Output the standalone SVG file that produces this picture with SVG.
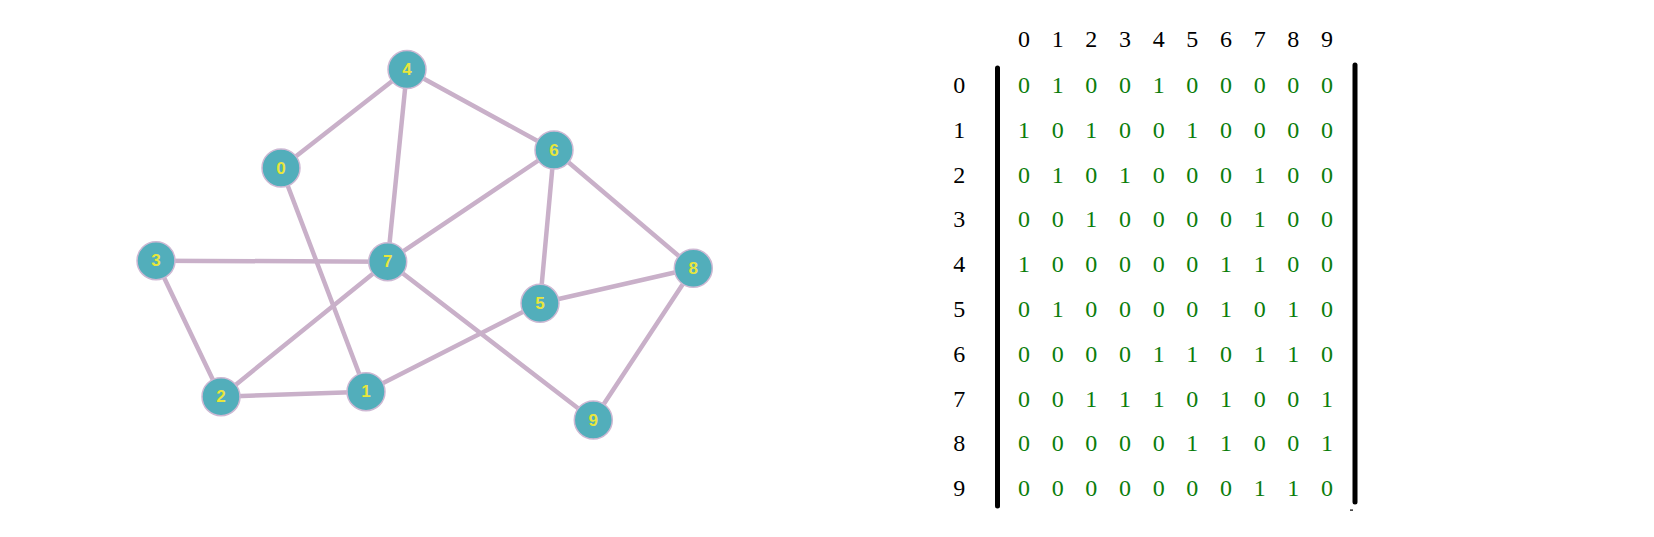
<svg xmlns="http://www.w3.org/2000/svg" width="1654" height="537" viewBox="0 0 1654 537">
<style>
.edge{stroke:#C9B0C9;stroke-width:4.5;stroke-linecap:round;fill:none}
.node circle{fill:#52AEBB;stroke:#CDB8D3;stroke-width:1.5}
.node text{font-family:"Liberation Sans",Arial,sans-serif;font-weight:bold;font-size:17px;fill:#E8E63C;text-anchor:middle;dominant-baseline:central}
.lbl{font-family:"Liberation Serif","Times New Roman",serif;font-size:24px;fill:#000;text-anchor:middle}
.val{font-family:"Liberation Serif","Times New Roman",serif;font-size:24px;fill:#0B7D0B;text-anchor:middle}
.bar{stroke:#000;stroke-width:5;stroke-linecap:round}
</style>
<rect width="1654" height="537" fill="#FFFFFF"/>
<g id="connectors">
<line class="edge" x1="407" y1="69.5" x2="281" y2="168"/>
<line class="edge" x1="407" y1="69.5" x2="387.7" y2="261.7"/>
<line class="edge" x1="407" y1="69.5" x2="554" y2="150"/>
<line class="edge" x1="281" y1="168" x2="366" y2="391.7"/>
<line class="edge" x1="554" y1="150" x2="387.7" y2="261.7"/>
<line class="edge" x1="554" y1="150" x2="540" y2="303.3"/>
<line class="edge" x1="554" y1="150" x2="693.3" y2="268.3"/>
<line class="edge" x1="156" y1="260.7" x2="387.7" y2="261.7"/>
<line class="edge" x1="156" y1="260.7" x2="221" y2="396.7"/>
<line class="edge" x1="387.7" y1="261.7" x2="221" y2="396.7"/>
<line class="edge" x1="387.7" y1="261.7" x2="593.3" y2="420"/>
<line class="edge" x1="540" y1="303.3" x2="693.3" y2="268.3"/>
<line class="edge" x1="540" y1="303.3" x2="366" y2="391.7"/>
<line class="edge" x1="221" y1="396.7" x2="366" y2="391.7"/>
<line class="edge" x1="693.3" y1="268.3" x2="593.3" y2="420"/>
</g>
<g id="node-0" class="node"><circle cx="281" cy="168" r="19"/><text x="281" y="168">0</text></g>
<g id="node-1" class="node"><circle cx="366" cy="391.7" r="19"/><text x="366" y="391.7">1</text></g>
<g id="node-2" class="node"><circle cx="221" cy="396.7" r="19"/><text x="221" y="396.7">2</text></g>
<g id="node-3" class="node"><circle cx="156" cy="260.7" r="19"/><text x="156" y="260.7">3</text></g>
<g id="node-4" class="node"><circle cx="407" cy="69.5" r="19"/><text x="407" y="69.5">4</text></g>
<g id="node-5" class="node"><circle cx="540" cy="303.3" r="19"/><text x="540" y="303.3">5</text></g>
<g id="node-6" class="node"><circle cx="554" cy="150" r="19"/><text x="554" y="150">6</text></g>
<g id="node-7" class="node"><circle cx="387.7" cy="261.7" r="19"/><text x="387.7" y="261.7">7</text></g>
<g id="node-8" class="node"><circle cx="693.3" cy="268.3" r="19"/><text x="693.3" y="268.3">8</text></g>
<g id="node-9" class="node"><circle cx="593.3" cy="420" r="19"/><text x="593.3" y="420">9</text></g>
<g id="matrix">
<g id="col-headers">
<text class="lbl" x="1024" y="46.5">0</text><text class="lbl" x="1057.7" y="46.5">1</text><text class="lbl" x="1091.3" y="46.5">2</text><text class="lbl" x="1125" y="46.5">3</text><text class="lbl" x="1158.7" y="46.5">4</text><text class="lbl" x="1192.3" y="46.5">5</text><text class="lbl" x="1226" y="46.5">6</text><text class="lbl" x="1259.7" y="46.5">7</text><text class="lbl" x="1293.3" y="46.5">8</text><text class="lbl" x="1327" y="46.5">9</text>
</g>
<g id="row-labels">
<text class="lbl" x="959.3" y="93">0</text><text class="lbl" x="959.3" y="137.8">1</text><text class="lbl" x="959.3" y="182.6">2</text><text class="lbl" x="959.3" y="227.4">3</text><text class="lbl" x="959.3" y="272.2">4</text><text class="lbl" x="959.3" y="317">5</text><text class="lbl" x="959.3" y="361.8">6</text><text class="lbl" x="959.3" y="406.6">7</text><text class="lbl" x="959.3" y="451.4">8</text><text class="lbl" x="959.3" y="496.2">9</text>
</g>
<line class="bar" x1="997.5" y1="68" x2="997.5" y2="506"/>
<line class="bar" x1="1355" y1="65" x2="1355" y2="502"/>
<rect x="1350" y="509.5" width="3" height="1.2" fill="#000"/>
<g id="values">
<text class="val" y="93"><tspan x="1024">0</tspan><tspan x="1057.7">1</tspan><tspan x="1091.3">0</tspan><tspan x="1125">0</tspan><tspan x="1158.7">1</tspan><tspan x="1192.3">0</tspan><tspan x="1226">0</tspan><tspan x="1259.7">0</tspan><tspan x="1293.3">0</tspan><tspan x="1327">0</tspan></text>
<text class="val" y="137.8"><tspan x="1024">1</tspan><tspan x="1057.7">0</tspan><tspan x="1091.3">1</tspan><tspan x="1125">0</tspan><tspan x="1158.7">0</tspan><tspan x="1192.3">1</tspan><tspan x="1226">0</tspan><tspan x="1259.7">0</tspan><tspan x="1293.3">0</tspan><tspan x="1327">0</tspan></text>
<text class="val" y="182.6"><tspan x="1024">0</tspan><tspan x="1057.7">1</tspan><tspan x="1091.3">0</tspan><tspan x="1125">1</tspan><tspan x="1158.7">0</tspan><tspan x="1192.3">0</tspan><tspan x="1226">0</tspan><tspan x="1259.7">1</tspan><tspan x="1293.3">0</tspan><tspan x="1327">0</tspan></text>
<text class="val" y="227.4"><tspan x="1024">0</tspan><tspan x="1057.7">0</tspan><tspan x="1091.3">1</tspan><tspan x="1125">0</tspan><tspan x="1158.7">0</tspan><tspan x="1192.3">0</tspan><tspan x="1226">0</tspan><tspan x="1259.7">1</tspan><tspan x="1293.3">0</tspan><tspan x="1327">0</tspan></text>
<text class="val" y="272.2"><tspan x="1024">1</tspan><tspan x="1057.7">0</tspan><tspan x="1091.3">0</tspan><tspan x="1125">0</tspan><tspan x="1158.7">0</tspan><tspan x="1192.3">0</tspan><tspan x="1226">1</tspan><tspan x="1259.7">1</tspan><tspan x="1293.3">0</tspan><tspan x="1327">0</tspan></text>
<text class="val" y="317"><tspan x="1024">0</tspan><tspan x="1057.7">1</tspan><tspan x="1091.3">0</tspan><tspan x="1125">0</tspan><tspan x="1158.7">0</tspan><tspan x="1192.3">0</tspan><tspan x="1226">1</tspan><tspan x="1259.7">0</tspan><tspan x="1293.3">1</tspan><tspan x="1327">0</tspan></text>
<text class="val" y="361.8"><tspan x="1024">0</tspan><tspan x="1057.7">0</tspan><tspan x="1091.3">0</tspan><tspan x="1125">0</tspan><tspan x="1158.7">1</tspan><tspan x="1192.3">1</tspan><tspan x="1226">0</tspan><tspan x="1259.7">1</tspan><tspan x="1293.3">1</tspan><tspan x="1327">0</tspan></text>
<text class="val" y="406.6"><tspan x="1024">0</tspan><tspan x="1057.7">0</tspan><tspan x="1091.3">1</tspan><tspan x="1125">1</tspan><tspan x="1158.7">1</tspan><tspan x="1192.3">0</tspan><tspan x="1226">1</tspan><tspan x="1259.7">0</tspan><tspan x="1293.3">0</tspan><tspan x="1327">1</tspan></text>
<text class="val" y="451.4"><tspan x="1024">0</tspan><tspan x="1057.7">0</tspan><tspan x="1091.3">0</tspan><tspan x="1125">0</tspan><tspan x="1158.7">0</tspan><tspan x="1192.3">1</tspan><tspan x="1226">1</tspan><tspan x="1259.7">0</tspan><tspan x="1293.3">0</tspan><tspan x="1327">1</tspan></text>
<text class="val" y="496.2"><tspan x="1024">0</tspan><tspan x="1057.7">0</tspan><tspan x="1091.3">0</tspan><tspan x="1125">0</tspan><tspan x="1158.7">0</tspan><tspan x="1192.3">0</tspan><tspan x="1226">0</tspan><tspan x="1259.7">1</tspan><tspan x="1293.3">1</tspan><tspan x="1327">0</tspan></text>
</g>
</g>
</svg>
